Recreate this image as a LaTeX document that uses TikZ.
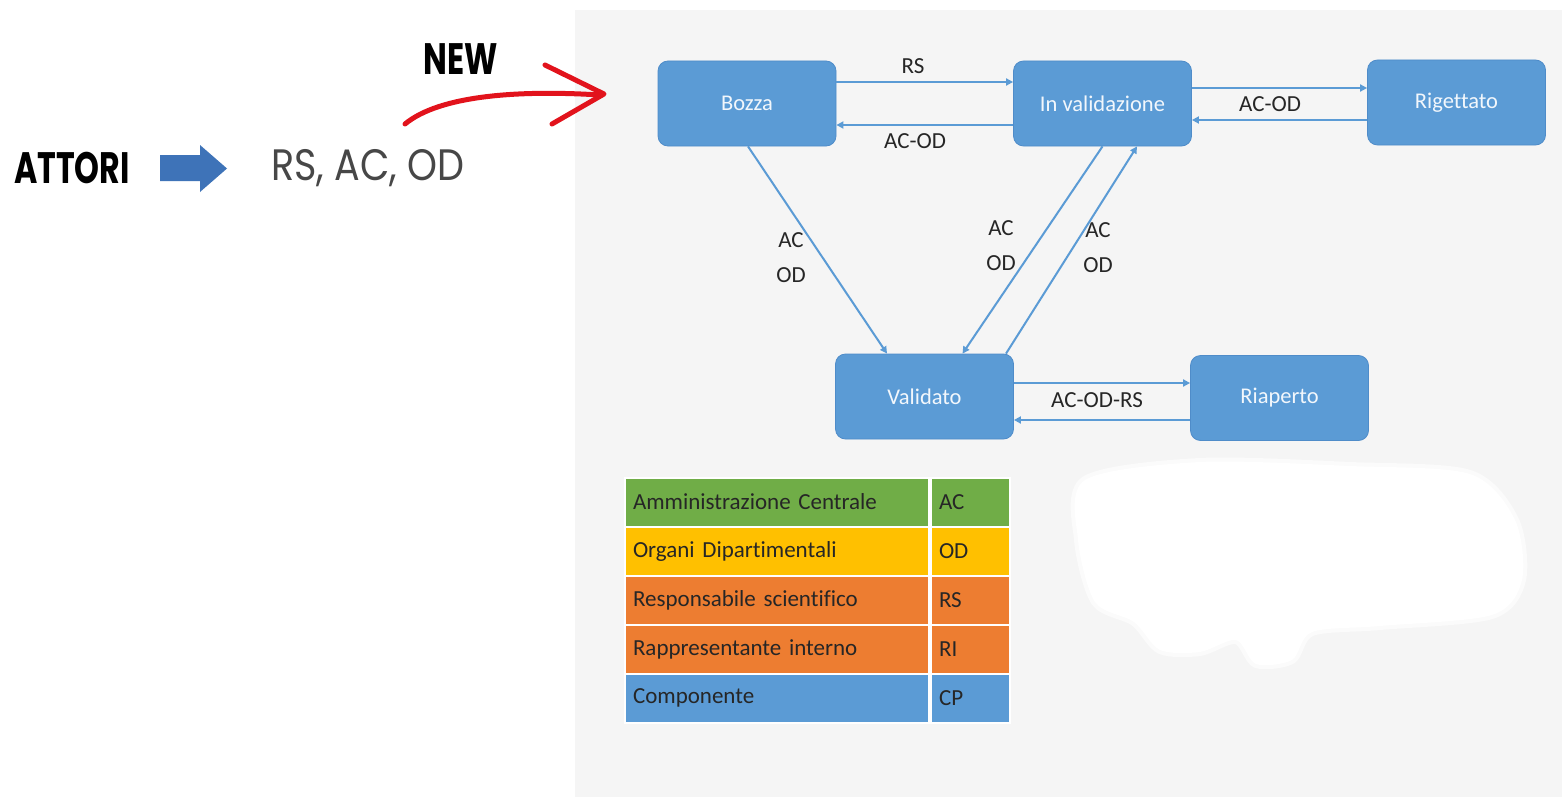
\documentclass[tikz,border=0pt]{standalone}
\usepackage{fontspec}
\setmainfont{Carlito}[Ligatures=NoCommon]
\newfontfamily\geo{Poppins}
\usetikzlibrary{arrows.meta}
\definecolor{panel}{HTML}{F5F5F5}
\definecolor{boxblue}{HTML}{5B9BD5}
\definecolor{boxedge}{HTML}{4F8CC9}
\definecolor{linkblue}{HTML}{5B9BD5}
\definecolor{fatblue}{HTML}{3E73B8}
\definecolor{newred}{HTML}{E2131C}
\definecolor{cgreen}{HTML}{70AD47}
\definecolor{cyellow}{HTML}{FFC000}
\definecolor{corange}{HTML}{ED7D31}
\definecolor{cblue}{HTML}{5B9BD5}
\definecolor{ink}{HTML}{262626}
\tikzset{
  state/.style={rectangle, rounded corners=10pt, fill=boxblue, draw=boxedge, line width=0.8pt,
    minimum width=178pt, minimum height=85pt, inner sep=0pt, text=white!92!boxblue,
    font=\fontsize{22.5}{24}\selectfont},
  conn/.style={draw=linkblue, line width=2pt, -{Triangle[length=7pt,width=7pt]}},
  lbl/.style={text=ink, font=\fontsize{23}{35}\selectfont, align=center, inner sep=0pt},
  cellL/.style={rectangle, draw=white, line width=2pt, minimum width=304pt, minimum height=49pt,
    text width=288pt, align=left, inner sep=0pt, text=ink, font=\fontsize{23}{25}\selectfont},
  cellR/.style={rectangle, draw=white, line width=2pt, minimum width=79pt, minimum height=49pt,
    text width=63pt, align=left, inner sep=0pt, text=ink, font=\fontsize{23}{25}\selectfont},
}
\begin{document}
\begin{tikzpicture}[x=1pt,y=-1pt]
\useasboundingbox (0,0) rectangle (1562,797);
\fill[white] (0,0) rectangle (1562,797);
\fill[panel] (575,10) rectangle (1562,797);

% erased blob
\filldraw[white, draw opacity=0.6, line width=8pt, line join=round] plot[smooth cycle] coordinates {(1085,480) (1200,462) (1350,466) (1470,474) (1515,520) (1522,580) (1492,615) (1380,626) (1312,632) (1292,660) (1256,664) (1236,640) (1200,652) (1160,650) (1134,622) (1095,602) (1078,540)};

% left side
\node[anchor=west, inner sep=0pt, font=\geo\bfseries\fontsize{44}{46}\selectfont, text=black] (attori) at (14,168) {\scalebox{0.72}[1]{ATTORI}};
\fill[fatblue] (160,155) -- (200,155) -- (200,145) -- (227,168.5) -- (200,192) -- (200,181) -- (160,181) -- cycle;
\node[anchor=west, inner sep=0pt, font=\geo\fontsize{44}{46}\selectfont, text=ink!85] (actors) at (271,168) {\scalebox{0.865}[1]{RS, AC, OD}};
\node[inner sep=0pt, font=\geo\bfseries\fontsize{44}{46}\selectfont, text=black] (new) at (461,59) {\scalebox{0.72}[1]{NEW}};
\draw[newred, line width=5pt, line cap=round] (405,124) .. controls (440,95) and (520,90) .. (600,95);
\draw[newred, line width=5pt, line cap=round, line join=round] (545,65) -- (604,94) -- (552,124);

% states
\node[state] (bozza) at (747,103.5) {Bozza};
\node[state] (inval) at (1102.5,103.5) {In validazione};
\node[state] (rig) at (1456.5,102.5) {Rigettato};
\node[state] (val) at (924.5,396.5) {Validato};
\node[state] (ria) at (1279.5,398) {Riaperto};

% connectors
\draw[conn] ([yshift=21.5pt]bozza.east) -- ([yshift=21.5pt]inval.west);
\draw[conn] ([yshift=-21.5pt]inval.west) -- ([yshift=-21.5pt]bozza.east);
\draw[conn] (inval.east |- 0,88) -- (rig.west |- 0,88);
\draw[conn] (rig.west |- 0,120) -- (inval.east |- 0,120);
\draw[conn] ([xshift=1pt]bozza.south) -- ([xshift=-37.5pt]val.north);
\draw[conn] (inval.south) -- ([xshift=38pt]val.north);
\draw[conn] ([xshift=81.5pt]val.north) -- ([xshift=34.5pt]inval.south);
\draw[conn] (val.east |- 0,383) -- (ria.west |- 0,383);
\draw[conn] (ria.west |- 0,420) -- (val.east |- 0,420);

% labels
\node[lbl] (l1) at (913,66) {RS};
\node[lbl] (l2) at (915,141) {AC-OD};
\node[lbl] (l3) at (1270,104) {AC-OD};
\node[lbl] (l4) at (791,258) {AC\\OD};
\node[lbl] (l5) at (1001,246) {AC\\OD};
\node[lbl] (l6) at (1098,248) {AC\\OD};
\node[lbl] (l7) at (1097,400) {AC-OD-RS};

% legend table
\node[cellL, fill=cgreen] (t1) at (777,502) {Amministrazione Centrale};
\node[cellR, fill=cgreen] (u1) at (970.5,502) {AC};
\node[cellL, fill=cyellow] (t2) at (777,551) {Organi Dipartimentali};
\node[cellR, fill=cyellow] (u2) at (970.5,551) {OD};
\node[cellL, fill=corange] (t3) at (777,600) {Responsabile scientifico};
\node[cellR, fill=corange] (u3) at (970.5,600) {RS};
\node[cellL, fill=corange] (t4) at (777,649) {Rappresentante interno};
\node[cellR, fill=corange] (u4) at (970.5,649) {RI};
\node[cellL, fill=cblue] (t5) at (777,698) {Componente};
\node[cellR, fill=cblue] (u5) at (970.5,698) {CP};
\end{tikzpicture}
\end{document}
